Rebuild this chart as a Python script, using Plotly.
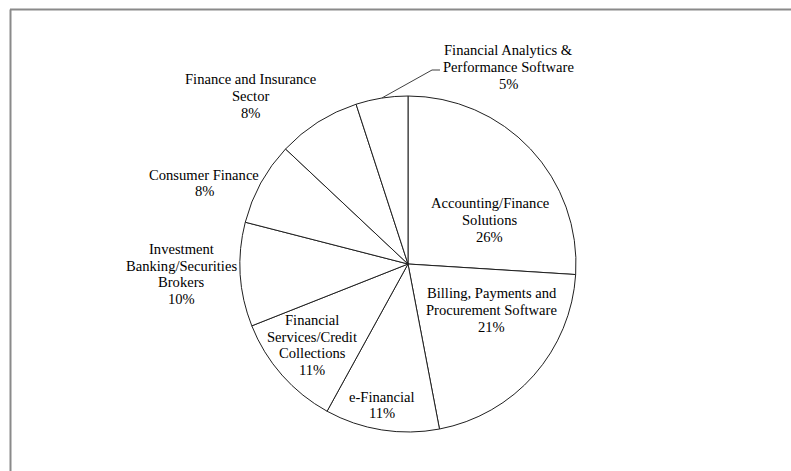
import math
import plotly.graph_objects as go

# ---- data ----
categories = [
    "Accounting/Finance<br>Solutions",
    "Billing, Payments and<br>Procurement Software",
    "e-Financial",
    "Financial<br>Services/Credit<br>Collections",
    "Investment<br>Banking/Securities<br>Brokers",
    "Consumer Finance",
    "Finance and Insurance<br>Sector",
    "Financial Analytics &<br>Performance Software",
]
shares = [26, 21, 11, 11, 10, 8, 8, 5]

# ---- layout constants (pixels) ----
W, H = 791, 471
CX, CY, R = 408, 264, 168
FONT = "Liberation Serif"
FS = 14.6
LINE = 16.6

# label centre positions (pixels), one per category
label_pos = [
    (490, 220), (492, 310), (382, 405), (312, 345),
    (181, 274), (204, 183), (250, 96), (508, 67),
]

def px(x):
    return x / W

def py(y):
    return 1 - y / H

fig = go.Figure(go.Pie(
    labels=[c.replace("<br>", " ") for c in categories],
    values=shares,
    sort=False,
    direction="clockwise",
    rotation=0,
    textinfo="none",
    hoverinfo="label+percent",
    marker=dict(colors=["#ffffff"] * len(shares),
                line=dict(color="#202020", width=1)),
    domain=dict(x=[px(CX - R), px(CX + R)], y=[py(CY + R), py(CY - R)]),
    showlegend=False,
))

total = sum(shares)
annotations = []
for cat, v, (lx, ly) in zip(categories, shares, label_pos):
    lines = cat.split("<br>") + [f"{round(v / total * 100)}%"]
    n = len(lines)
    for i, t in enumerate(lines):
        yy = ly + (i - (n - 1) / 2) * LINE
        annotations.append(dict(
            x=px(lx), y=py(yy), xref="paper", yref="paper",
            text=t, showarrow=False, xanchor="center", yanchor="middle",
            font=dict(family=FONT, size=FS, color="#000000"),
        ))

# leader line for the last (small) slice
cum = sum(shares[:-1]) + shares[-1] / 2
theta = 2 * math.pi * cum / total
sx = CX + R * math.sin(theta)
sy = CY - R * math.cos(theta)
shapes = [
    dict(type="line", xref="paper", yref="paper",
         x0=px(sx), y0=py(sy), x1=px(432), y1=py(70),
         line=dict(color="#404040", width=1)),
    dict(type="line", xref="paper", yref="paper",
         x0=px(432), y0=py(70), x1=px(440), y1=py(70),
         line=dict(color="#404040", width=1)),
    # chart border (top and left visible)
    dict(type="line", xref="paper", yref="paper",
         x0=px(10), y0=py(9.5), x1=1, y1=py(9.5),
         line=dict(color="#8a8a8a", width=2)),
    dict(type="line", xref="paper", yref="paper",
         x0=px(10.5), y0=py(9.5), x1=px(10.5), y1=0,
         line=dict(color="#8a8a8a", width=2)),
]

fig.update_layout(
    width=W, height=H,
    margin=dict(l=0, r=0, t=0, b=0),
    paper_bgcolor="#ffffff",
    plot_bgcolor="#ffffff",
    annotations=annotations,
    shapes=shapes,
)

fig.write_html("out.html")
